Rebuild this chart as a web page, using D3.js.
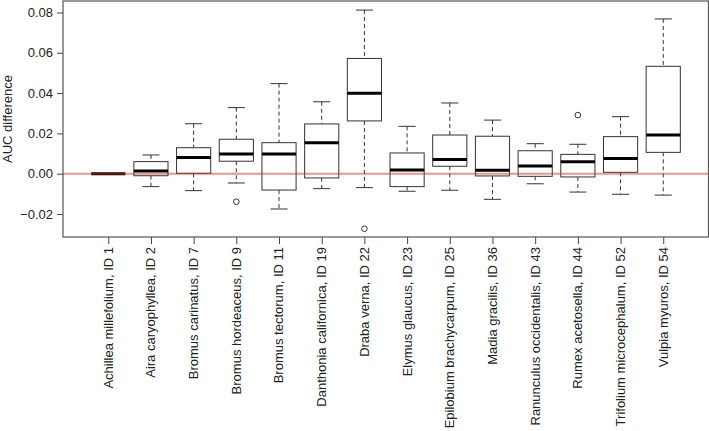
<!DOCTYPE html>
<html><head><meta charset="utf-8">
<script src="https://cdn.jsdelivr.net/npm/d3@7"></script>
<style>body{margin:0;background:#fff}svg{display:block;font-family:"Liberation Sans",Arial,sans-serif}</style>
</head><body><svg id="chart" width="709" height="431"></svg>
<script>
const categories = ["Achillea millefolium, ID 1","Aira caryophyllea, ID 2","Bromus carinatus, ID 7","Bromus hordeaceus, ID 9","Bromus tectorum, ID 11","Danthonia californica, ID 19","Draba verna, ID 22","Elymus glaucus, ID 23","Epilobium brachycarpum, ID 25","Madia gracilis, ID 36","Ranunculus occidentalis, ID 43","Rumex acetosella, ID 44","Trifolium microcephalum, ID 52","Vulpia myuros, ID 54"];
const lowerWhisker = [0, -0.0064, -0.0084, -0.0046, -0.0175, -0.0074, -0.0069, -0.0087, -0.0082, -0.0127, -0.0050, -0.0091, -0.0102, -0.0106];
const q1           = [0, -0.0010, 0.0002, 0.0062, -0.0081, -0.0021, 0.0262, -0.0064, 0.0037, -0.0011, -0.0013, -0.0016, 0.0007, 0.0106];
const medians      = [0, 0.0013, 0.0081, 0.0098, 0.0098, 0.0154, 0.0399, 0.0018, 0.0071, 0.0017, 0.0038, 0.0060, 0.0076, 0.0192];
const q3           = [0, 0.0060, 0.0129, 0.0171, 0.0154, 0.0247, 0.0572, 0.0103, 0.0192, 0.0186, 0.0114, 0.0096, 0.0184, 0.0533];
const upperWhisker = [0, 0.0093, 0.0248, 0.0328, 0.0447, 0.0357, 0.0812, 0.0235, 0.0351, 0.0266, 0.0149, 0.0146, 0.0283, 0.0768];
const outliers     = [[], [], [], [-0.0139], [], [], [-0.0273], [], [], [], [], [0.0291], [], []];
const yTicks = [-0.02, 0.00, 0.02, 0.04, 0.06, 0.08];
const yLabel = "AUC difference";

const svg = d3.select("#chart");
const L = 63, R = 708.5, T = 1, B = 237;
const n = categories.length;
const x = d3.scaleLinear().domain([0.5 - 0.04*n, n + 0.5 + 0.04*n]).range([L, R]);
const y = d3.scaleLinear().domain([-0.0314, 0.0857]).range([B, T]);
const step = x(2) - x(1);
const bw = step * 0.8, cw = bw / 2;

const fmt = v => (v < 0 ? "\u2212" : "") + Math.abs(v).toFixed(2);
const yAxis = d3.axisLeft(y).tickValues(yTicks).tickFormat(fmt).tickSize(6).tickPadding(4);
const ga = svg.append("g").attr("transform", `translate(${L},0)`).call(yAxis);
ga.select(".domain").remove();
ga.selectAll("line").attr("stroke", "#444");
ga.selectAll("text").attr("font-size", 13).attr("fill", "#222").attr("font-family", "Liberation Sans, Arial, sans-serif");

const xAxis = d3.axisBottom(x).tickValues(d3.range(1, n + 1)).tickFormat(i => categories[i - 1]).tickSize(7).tickPadding(4);
const gx = svg.append("g").attr("transform", `translate(0,${B})`).call(xAxis);
gx.select(".domain").remove();
gx.selectAll("line").attr("stroke", "#444");
gx.selectAll("text").attr("font-size", 13).attr("fill", "#222").attr("font-family", "Liberation Sans, Arial, sans-serif")
  .attr("transform", "rotate(-90)").attr("text-anchor", "end").attr("x", -10).attr("y", 0).attr("dy", "0.3em");

svg.append("text").attr("transform", `translate(12,${(T + B) / 2}) rotate(-90)`)
  .attr("text-anchor", "middle").attr("font-size", 13).attr("fill", "#222").text(yLabel);

svg.append("rect").attr("x", L).attr("y", T).attr("width", R - L).attr("height", B - T)
  .attr("fill", "none").attr("stroke", "#555").attr("stroke-width", 1.2);

const g = svg.append("g");
categories.forEach((c, i) => {
  const cx = x(i + 1);
  const gg = g.append("g");
  // whiskers
  gg.append("line").attr("x1", cx).attr("x2", cx).attr("y1", y(upperWhisker[i])).attr("y2", y(q3[i]))
    .attr("stroke", "#333").attr("stroke-dasharray", "4,3");
  gg.append("line").attr("x1", cx).attr("x2", cx).attr("y1", y(q1[i])).attr("y2", y(lowerWhisker[i]))
    .attr("stroke", "#333").attr("stroke-dasharray", "4,3");
  if (upperWhisker[i] !== q3[i]) gg.append("line").attr("x1", cx - cw/2).attr("x2", cx + cw/2).attr("y1", y(upperWhisker[i])).attr("y2", y(upperWhisker[i])).attr("stroke", "#333");
  if (lowerWhisker[i] !== q1[i]) gg.append("line").attr("x1", cx - cw/2).attr("x2", cx + cw/2).attr("y1", y(lowerWhisker[i])).attr("y2", y(lowerWhisker[i])).attr("stroke", "#333");
  gg.append("rect").attr("x", cx - bw/2).attr("width", bw).attr("y", y(q3[i])).attr("height", Math.max(0, y(q1[i]) - y(q3[i])))
    .attr("fill", "#fff").attr("stroke", "#333").attr("stroke-width", 1);
  gg.append("line").attr("x1", cx - bw/2).attr("x2", cx + bw/2).attr("y1", y(medians[i])).attr("y2", y(medians[i]))
    .attr("stroke", "#000").attr("stroke-width", 3);
  outliers[i].forEach(o => gg.append("circle").attr("cx", cx).attr("cy", y(o)).attr("r", 2.8)
    .attr("fill", "none").attr("stroke", "#333"));
});

svg.append("line").attr("x1", L).attr("x2", R).attr("y1", y(0)).attr("y2", y(0))
  .attr("stroke", "rgb(220,40,40)").attr("stroke-opacity", 0.5).attr("stroke-width", 2);
</script></body></html>
